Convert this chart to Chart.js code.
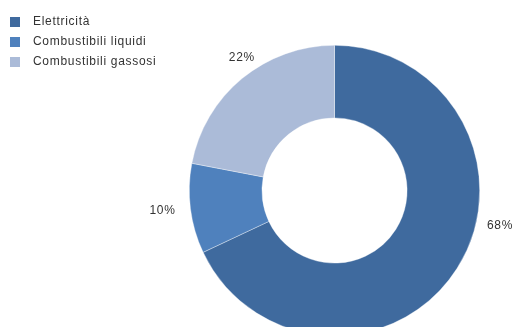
<!DOCTYPE html>
<html>
<head>
<meta charset="utf-8">
<script src="https://cdn.jsdelivr.net/npm/chart.js@4/dist/chart.umd.min.js"></script>
<style>
  html, body { margin: 0; padding: 0; background: #fff; overflow: hidden; }
  #wrap { width: 515px; height: 327px; overflow: hidden; }
</style>
</head>
<body>
<div id="wrap"><canvas id="myChart" width="515" height="400"></canvas></div>
<script>
// energy sources, share in percent
const categories = ['Elettricità', 'Combustibili liquidi', 'Combustibili gassosi'];
const shares = [68, 10, 22];
const colors = ['#3f6a9e', '#4f81bd', '#abbbd8'];

// where the percent labels sit: fraction along each slice, gap past the rim
const labelAt = [0.417, 0.517, 0.56];
const labelGap = [24, 28, 17];

const FONT = '12px "Liberation Sans", Arial, sans-serif';

const extras = {
    id: 'extras',
    afterDraw(chart) {
        const ctx = chart.ctx;
        ctx.save();
        ctx.font = FONT;
        ctx.letterSpacing = '0.7px';
        ctx.fillStyle = '#333';
        // legend, top left
        ctx.textAlign = 'left';
        ctx.textBaseline = 'middle';
        categories.forEach((name, i) => {
            const y = 22 + i * 20;
            ctx.fillStyle = colors[i];
            ctx.fillRect(10, y - 5, 10, 10);
            ctx.fillStyle = '#333';
            ctx.fillText(name, 33, y);
        });
        // percent labels outside the ring
        ctx.textAlign = 'center';
        const meta = chart.getDatasetMeta(0);
        meta.data.forEach((arc, i) => {
            const p = arc.getProps(['x', 'y', 'startAngle', 'endAngle', 'outerRadius'], true);
            const a = p.startAngle + labelAt[i] * (p.endAngle - p.startAngle);
            const r = p.outerRadius + labelGap[i];
            ctx.fillText(shares[i] + '%', p.x + Math.cos(a) * r, p.y + Math.sin(a) * r);
        });
        ctx.restore();
    }
};

new Chart(document.getElementById('myChart'), {
    type: 'doughnut',
    data: {
        labels: categories,
        datasets: [{
            data: shares,
            backgroundColor: colors,
            borderColor: 'rgba(255,255,255,0.6)',
            borderWidth: 0.6
        }]
    },
    options: {
        responsive: false,
        animation: false,
        cutout: '50%',
        layout: { padding: { left: 189, right: 35, top: 45, bottom: 64 } },
        plugins: {
            legend: { display: false },
            tooltip: { enabled: false }
        }
    },
    plugins: [extras]
});
</script>
</body>
</html>
